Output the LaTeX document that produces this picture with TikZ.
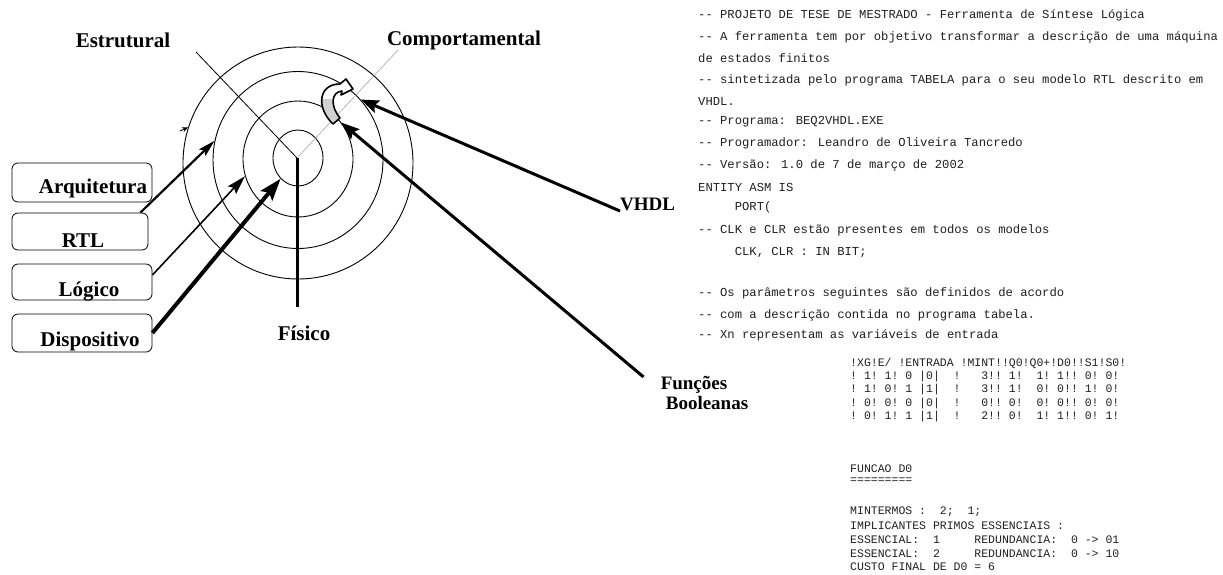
\documentclass[tikz,border=0pt]{standalone}
\usepackage{fontspec}
\setmainfont{Liberation Serif}
\newfontfamily\codefont{Liberation Mono}
\usetikzlibrary{arrows.meta,shapes.geometric}

\begin{document}
\begin{tikzpicture}[x=1pt,y=-1pt,
  ring/.style={draw,ellipse,inner sep=0pt,line width=0.9pt},
  levelbox/.style={draw,rounded corners=6pt,line width=0.8pt,inner sep=0pt},
  lbl/.style={font=\fontsize{21}{24}\selectfont\bfseries,inner sep=0pt},
  rlbl/.style={font=\fontsize{19}{22}\selectfont\bfseries,inner sep=0pt},
  code/.style={font=\codefont\fontsize{12.2}{14}\selectfont,text=black!88,anchor=west,inner sep=0pt},
  tab/.style={font=\codefont\fontsize{11.5}{13}\selectfont,text=black!88,anchor=west,inner sep=0pt},
  ptr/.style={line width=#1,-{Stealth[length=18pt,width=13pt,inset=3pt]}},
]
\useasboundingbox (0,0) rectangle (1223,574);

% --- concentric abstraction levels
\node[ring,minimum width=50pt,minimum height=56pt]  (c1) at (298,158) {};
\node[ring,minimum width=110pt,minimum height=116pt] (c2) at (298,159) {};
\node[ring,minimum width=170pt,minimum height=177pt] (c3) at (298,160) {};
\node[ring,minimum width=230pt,minimum height=232pt] (c4) at (298,163) {};

% --- the three domain axes
\coordinate (o) at (297,158);
\coordinate (estEnd) at (196,52);
\coordinate (comEnd) at (398,50);
\coordinate (fisEnd) at (297,307);
\draw[line width=0.8pt] (estEnd) -- (o);
\draw[line width=0.6pt,gray!70] (o) -- (comEnd);
\draw[line width=3pt] (o) -- (fisEnd);

\node[lbl] (est) at (123,40) {Estrutural};
\node[lbl] (com) at (464,40) {Comportamental};
\node[lbl] (fis) at (304,333) {Físico};

% --- level boxes
\node[levelbox,minimum width=140pt,minimum height=39pt] (arq) at (82,182.5) {};
\node[levelbox,minimum width=136pt,minimum height=37pt] (rtl) at (80,231.5) {};
\node[levelbox,minimum width=140pt,minimum height=36pt] (log) at (82,282) {};
\node[levelbox,minimum width=140pt,minimum height=38pt] (dsp) at (82,333) {};
\node[lbl,anchor=base] (arqT) at (93,193) {Arquitetura};
\node[lbl,anchor=base] (rtlT) at (83,247) {RTL};
\node[lbl,anchor=base] (logT) at (89,296) {Lógico};
\node[lbl,anchor=base] (dspT) at (90,346) {Dispositivo};

% --- arrows from the levels into the rings
\coordinate (arqA) at (180,131);
\draw[line width=0.8pt,-{Stealth[length=6pt,width=5pt]}] (arqA) -- (c4.162);
\draw[line width=2.2pt,-{Stealth[length=17pt,width=9pt,inset=3pt]}] ([xshift=-8pt]rtl.north east) -- (c3.167);
\draw[line width=1.6pt,-{Stealth[length=19pt,width=11pt,inset=3pt]}] ([yshift=7pt]log.east) -- (c2.198);
\draw[line width=4pt,-{Stealth[length=22pt,width=15pt,inset=4pt]}] (dsp.east) -- (c1.230);

% --- description pointers
\node[rlbl,anchor=west] (vhdl) at (620,204) {VHDL};
\node[rlbl] (fun1) at (694,385) {Funções};
\node[rlbl] (fun2) at (707,403) {Booleanas};
\draw[ptr=3pt] ([yshift=-7pt]vhdl.west) -- (c3.44);
\draw[ptr=3pt] ([xshift=-17pt,yshift=8pt]fun1.west) -- (c2.40);

% --- curved transformation arrow
\def\curvedarrow{(333,124) .. controls (316,108) and (318,84) .. (340,84) -- (346,79) -- (353,89) -- (341,95) -- (342,91) .. controls (331,92) and (330,106) .. (340,118) -- cycle}
\fill[white] \curvedarrow;
\begin{scope}
  \clip \curvedarrow;
  \fill[gray!35] (310,99) rectangle (360,130);
\end{scope}
\draw[line width=1.6pt,line join=round] \curvedarrow;

% --- VHDL source listing
\node[code] (l1)  at (698,15)  {-- PROJETO DE TESE DE MESTRADO - Ferramenta de Síntese Lógica};
\node[code] (l2)  at (698,37)  {-- A ferramenta tem por objetivo transformar a descrição de uma máquina};
\node[code] (l3)  at (698,58)  {de estados finitos};
\node[code] (l4)  at (698,80)  {-- sintetizada pelo programa TABELA para o seu modelo RTL descrito em};
\node[code] (l5)  at (698,101) {VHDL.};
\node[code] (l6)  at (698,122) {-- Programa: BEQ2VHDL.EXE};
\node[code] (l7)  at (698,143) {-- Programador: Leandro de Oliveira Tancredo};
\node[code] (l8)  at (698,165) {-- Versão: 1.0 de 7 de março de 2002};
\node[code] (l9)  at (698,187) {ENTITY ASM IS};
\node[code] (l10) at (698,207) {~~~~~PORT(};
\node[code] (l11) at (698,230) {-- CLK e CLR estão presentes em todos os modelos};
\node[code] (l12) at (698,252) {~~~~~CLK, CLR : IN BIT;};
\node[code] (l13) at (698,293) {-- Os parâmetros seguintes são definidos de acordo};
\node[code] (l14) at (698,315) {-- com a descrição contida no programa tabela.};
\node[code] (l15) at (698,335) {-- Xn representam as variáveis de entrada};

% --- truth table and minimisation report
\node[tab] (t0) at (850,363)   {!XG!E/~!ENTRADA~!MINT!!Q0!Q0+!D0!!S1!S0!};
\node[tab] (t1) at (850,376.5) {!~1!~1!~0~|0|~~!~~~3!!~1!~~1!~1!!~0!~0!};
\node[tab] (t2) at (850,390)   {!~1!~0!~1~|1|~~!~~~3!!~1!~~0!~0!!~1!~0!};
\node[tab] (t3) at (850,403.5) {!~0!~0!~0~|0|~~!~~~0!!~0!~~0!~0!!~0!~0!};
\node[tab] (t4) at (850,417)   {!~0!~1!~1~|1|~~!~~~2!!~0!~~1!~1!!~0!~1!};
\node[tab] (f0) at (850,469) {FUNCAO D0};
\node[tab] (f1) at (850,481) {=========};
\node[tab] (f2) at (850,512) {MINTERMOS~:~~2;~~1;};
\node[tab] (f3) at (850,526) {IMPLICANTES PRIMOS ESSENCIAIS :};
\node[tab] (f4) at (850,540) {ESSENCIAL:~~1~~~~~REDUNDANCIA:~~0~->~01};
\node[tab] (f5) at (850,554) {ESSENCIAL:~~2~~~~~REDUNDANCIA:~~0~->~10};
\node[tab] (f6) at (850,567) {CUSTO FINAL DE D0 = 6};
\end{tikzpicture}
\end{document}
